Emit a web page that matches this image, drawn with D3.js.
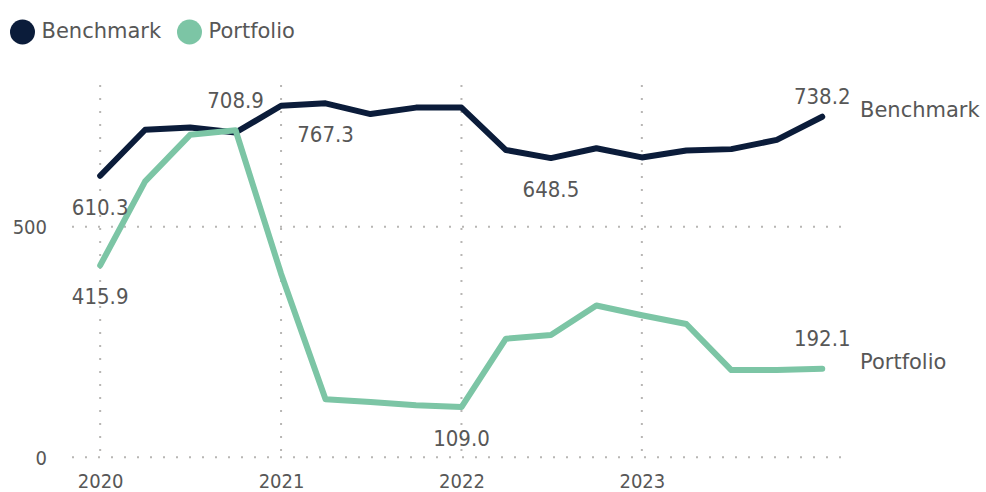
<!DOCTYPE html>
<html>
<head>
<meta charset="utf-8">
<script src="https://cdn.jsdelivr.net/npm/d3@7"></script>
<style>
    body { margin: 0; background: #fff; }
    svg { display: block; font-family: "DejaVu Sans", sans-serif; }
</style>
</head>
<body>
<svg width="986" height="492"></svg>
<script>
// quarterly observations
var quarters = ["2020-01-01", "2020-04-01", "2020-07-01", "2020-10-01",
    "2021-01-01", "2021-04-01", "2021-07-01", "2021-10-01",
    "2022-01-01", "2022-04-01", "2022-07-01", "2022-10-01",
    "2023-01-01", "2023-04-01", "2023-07-01", "2023-10-01", "2024-01-01"];
var benchmark = [610.3, 710, 715, 704, 762, 767.3, 744, 758, 758, 666, 648.5, 670, 650, 665, 668, 688, 738.2];
var portfolio = [415.9, 598, 699, 708.9, 398, 126, 120, 113, 109.0, 257, 265, 329, 308, 289, 189, 189, 192.1];
var yearTicks = [2020, 2021, 2022, 2023];
var yTicks = [0, 500];
var seriesNames = ["Benchmark", "Portfolio"];

// which points carry a value label, and where
var benchLabels = [{i: 0, dy: 39}, {i: 5, dy: 39}, {i: 10, dy: 39}, {i: 16, dy: -13}];
var portLabels = [{i: 0, dy: 39}, {i: 3, dy: -22}, {i: 8, dy: 39}, {i: 16, dy: -23}];

var colors = {Benchmark: "#0b1c3a", Portfolio: "#7cc5a5"};
var textGrey = "#575757";
var condensed = "'DejaVu Sans Condensed', 'DejaVu Sans', sans-serif";

var parse = d3.timeParse("%Y-%m-%d");
var dates = quarters.map(parse);

var svg = d3.select("svg");

var x = d3.scaleTime()
    .domain([d3.timeDay.offset(dates[0], -57), d3.timeDay.offset(dates[dates.length - 1], 42)])
    .range([72, 843]);
var y = d3.scaleLinear()
    .domain([0, 807])
    .range([457.3, 85]);

// dotted grid
var grid = svg.append("g").attr("class", "grid");
grid.selectAll(".hgrid")
    .data(yTicks)
    .enter().append("line")
    .attr("x1", 72).attr("x2", 843)
    .attr("y1", function (d) { return y(d); })
    .attr("y2", function (d) { return y(d); })
    .style("stroke", "#b8b6b4")
    .style("stroke-width", 2)
    .style("stroke-dasharray", "2,11");
grid.selectAll(".vgrid")
    .data(yearTicks)
    .enter().append("line")
    .attr("x1", function (d) { return x(new Date(d, 0, 1)); })
    .attr("x2", function (d) { return x(new Date(d, 0, 1)); })
    .attr("y1", y.range()[1]).attr("y2", y(0))
    .style("stroke", "#b8b6b4")
    .style("stroke-width", 2)
    .style("stroke-dasharray", "2,11");

// axes
var xAxis = svg.append("g")
    .attr("transform", "translate(0," + 472 + ")")
    .call(d3.axisBottom(x)
        .tickValues(yearTicks.map(function (d) { return new Date(d, 0, 1); }))
        .tickFormat(d3.timeFormat("%Y"))
        .tickSize(0));
var yAxis = svg.append("g")
    .attr("transform", "translate(47,0)")
    .call(d3.axisLeft(y).tickValues(yTicks).tickSize(0));

[xAxis, yAxis].forEach(function (a) {
    a.select(".domain").remove();
    a.selectAll("text")
        .style("font-family", condensed)
        .style("font-size", "20px")
        .style("fill", textGrey);
});
xAxis.selectAll("text").attr("dy", "0.71em").attr("y", 2);
yAxis.selectAll("text").attr("x", 0).attr("dy", "0.36em");

// lines
var line = d3.line()
    .x(function (d, i) { return x(dates[i]); })
    .y(function (d) { return y(d); });

var series = [
    {name: "Benchmark", values: benchmark, labels: benchLabels},
    {name: "Portfolio", values: portfolio, labels: portLabels}
];

svg.selectAll(".series")
    .data(series)
    .enter().append("path")
    .attr("class", "series")
    .attr("d", function (d) { return line(d.values); })
    .style("fill", "none")
    .style("stroke", function (d) { return colors[d.name]; })
    .style("stroke-width", 6)
    .style("stroke-linejoin", "round")
    .style("stroke-linecap", "round");

// value labels
series.forEach(function (s) {
    svg.selectAll(".lbl-" + s.name)
        .data(s.labels)
        .enter().append("text")
        .attr("x", function (d) { return x(dates[d.i]); })
        .attr("y", function (d) { return y(s.values[d.i]) + d.dy; })
        .attr("text-anchor", "middle")
        .style("font-family", condensed)
        .style("font-size", "22px")
        .style("fill", textGrey)
        .text(function (d) { return s.values[d.i].toFixed(1); });
});

// series name at line end
svg.selectAll(".endname")
    .data(series)
    .enter().append("text")
    .attr("x", 860)
    .attr("y", function (d) { return y(d.values[d.values.length - 1]) + 0.5; })
    .style("font-size", "21px")
    .style("fill", textGrey)
    .text(function (d) { return d.name; });

// legend
var legendX = [22.5, 189.5];
var legend = svg.selectAll(".legend")
    .data(seriesNames)
    .enter().append("g")
    .attr("transform", function (d, i) { return "translate(" + legendX[i] + ",32)"; });
legend.append("circle")
    .attr("r", 12.5)
    .style("fill", function (d) { return colors[d]; });
legend.append("text")
    .attr("x", 19)
    .attr("y", 5.5)
    .style("font-size", "21px")
    .style("fill", textGrey)
    .text(function (d) { return d; });
</script>
</body>
</html>
